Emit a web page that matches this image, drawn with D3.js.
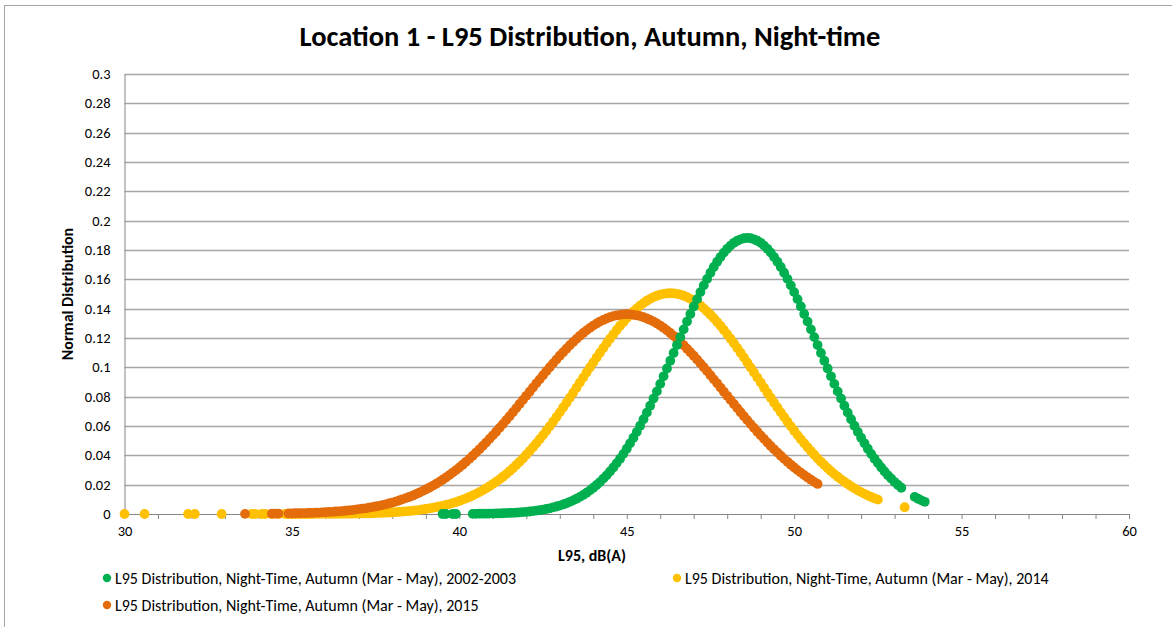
<!DOCTYPE html>
<html lang="en">
<head>
<meta charset="UTF-8">
<title>Location 1 - L95 Distribution, Autumn, Night-time</title>
<script src="https://d3js.org/d3.v7.min.js"></script>
<style>
  body { margin: 0; background: #fff; }
  svg { display: block; font-family: Calibri, Carlito, Lato, sans-serif; }
</style>
</head>
<body>
<script>
// tick labels
const xTicks = [30, 35, 40, 45, 50, 55, 60];
const xMinorTicks = [30,31,32,33,34,35,36,37,38,39,40,41,42,43,44,45,46,47,48,49,50,
  51,52,53,54,55,56,57,58,59,60];
const yTicks = [0, 0.02, 0.04, 0.06, 0.08, 0.1, 0.12, 0.14, 0.16, 0.18, 0.2, 0.22, 0.24, 0.26, 0.28, 0.3];

const seriesNames = [
  "L95 Distribution, Night-Time, Autumn (Mar - May), 2002-2003",
  "L95 Distribution, Night-Time, Autumn (Mar - May), 2014",
  "L95 Distribution, Night-Time, Autumn (Mar - May), 2015"
];

// 2002-2003
const greenX = [39.5,39.6,39.8,39.9,
  40.4,40.5,40.6,40.7,40.8,40.9,
  41.0,41.1,41.2,41.3,41.4,41.5,41.6,41.7,41.8,41.9,
  42.0,42.1,42.2,42.3,42.4,42.5,42.6,42.7,42.8,42.9,
  43.0,43.1,43.2,43.3,43.4,43.5,43.6,43.7,43.8,43.9,
  44.0,44.1,44.2,44.3,44.4,44.5,44.6,44.7,44.8,44.9,
  45.0,45.1,45.2,45.3,45.4,45.5,45.6,45.7,45.8,45.9,
  46.0,46.1,46.2,46.3,46.4,46.5,46.6,46.7,46.8,46.9,
  47.0,47.1,47.2,47.3,47.4,47.5,47.6,47.7,47.8,47.9,
  48.0,48.1,48.2,48.3,48.4,48.5,48.6,48.7,48.8,48.9,
  49.0,49.1,49.2,49.3,49.4,49.5,49.6,49.7,49.8,49.9,
  50.0,50.1,50.2,50.3,50.4,50.5,50.6,50.7,50.8,50.9,
  51.0,51.1,51.2,51.3,51.4,51.5,51.6,51.7,51.8,51.9,
  52.0,52.1,52.2,52.3,52.4,52.5,52.6,52.7,52.8,52.9,
  53.0,53.1,53.2,
  53.6,53.7,53.8,53.9];
const greenY = [0.0000,0.0000,0.0000,0.0000,
  0.0001,0.0001,0.0002,0.0002,0.0002,0.0003,
  0.0003,0.0004,0.0004,0.0005,0.0006,0.0007,0.0008,0.0009,0.0011,0.0013,
  0.0015,0.0017,0.0020,0.0023,0.0026,0.0030,0.0034,0.0039,0.0045,0.0051,
  0.0057,0.0065,0.0073,0.0083,0.0093,0.0104,0.0117,0.0130,0.0145,0.0161,
  0.0179,0.0198,0.0218,0.0241,0.0264,0.0290,0.0317,0.0347,0.0377,0.0410,
  0.0445,0.0482,0.0520,0.0560,0.0602,0.0646,0.0691,0.0738,0.0787,0.0836,
  0.0887,0.0939,0.0992,0.1045,0.1098,0.1152,0.1206,0.1259,0.1312,0.1364,
  0.1415,0.1465,0.1513,0.1559,0.1603,0.1645,0.1684,0.1720,0.1752,0.1782,
  0.1808,0.1830,0.1849,0.1863,0.1873,0.1880,0.1882,0.1880,0.1873,0.1863,
  0.1849,0.1830,0.1808,0.1782,0.1752,0.1720,0.1684,0.1645,0.1603,0.1559,
  0.1513,0.1465,0.1415,0.1364,0.1312,0.1259,0.1206,0.1152,0.1098,0.1045,
  0.0992,0.0939,0.0887,0.0836,0.0787,0.0738,0.0691,0.0646,0.0602,0.0560,
  0.0520,0.0482,0.0445,0.0410,0.0377,0.0347,0.0317,0.0290,0.0264,0.0241,
  0.0218,0.0198,0.0179,
  0.0117,0.0104,0.0093,0.0083];

// 2014
const yellowX = [30.0,30.6,31.9,32.1,32.9,33.8,33.9,34.1,34.2,34.4,34.6,34.8,34.9,
  35.0,35.1,35.2,35.3,35.4,35.5,35.6,35.7,35.8,35.9,
  36.0,36.1,36.2,36.3,36.4,36.5,36.6,36.7,36.8,36.9,
  37.0,37.1,37.2,37.3,37.4,37.5,37.6,37.7,37.8,37.9,
  38.0,38.1,38.2,38.3,38.4,38.5,38.6,38.7,38.8,38.9,
  39.0,39.1,39.2,39.3,39.4,39.5,39.6,39.7,39.8,39.9,
  40.0,40.1,40.2,40.3,40.4,40.5,40.6,40.7,40.8,40.9,
  41.0,41.1,41.2,41.3,41.4,41.5,41.6,41.7,41.8,41.9,
  42.0,42.1,42.2,42.3,42.4,42.5,42.6,42.7,42.8,42.9,
  43.0,43.1,43.2,43.3,43.4,43.5,43.6,43.7,43.8,43.9,
  44.0,44.1,44.2,44.3,44.4,44.5,44.6,44.7,44.8,44.9,
  45.0,45.1,45.2,45.3,45.4,45.5,45.6,45.7,45.8,45.9,
  46.0,46.1,46.2,46.3,46.4,46.5,46.6,46.7,46.8,46.9,
  47.0,47.1,47.2,47.3,47.4,47.5,47.6,47.7,47.8,47.9,
  48.0,48.1,48.2,48.3,48.4,48.5,48.6,48.7,48.8,48.9,
  49.0,49.1,49.2,49.3,49.4,49.5,49.6,49.7,49.8,49.9,
  50.0,50.1,50.2,50.3,50.4,50.5,50.6,50.7,50.8,50.9,
  51.0,51.1,51.2,51.3,51.4,51.5,51.6,51.7,51.8,51.9,
  52.0,52.1,52.2,52.3,52.4,52.5,
  53.3];
const yellowY = [0,0,0,0,0,0,0,0,0,0,0,0,0,
  0.0000,0.0000,0.0000,0.0000,0.0000,0.0000,0.0000,0.0001,0.0001,0.0001,
  0.0001,0.0001,0.0001,0.0001,0.0001,0.0002,0.0002,0.0002,0.0002,0.0003,
  0.0003,0.0004,0.0004,0.0005,0.0005,0.0006,0.0007,0.0008,0.0009,0.0010,
  0.0011,0.0013,0.0014,0.0016,0.0018,0.0020,0.0022,0.0025,0.0027,0.0031,
  0.0034,0.0038,0.0042,0.0046,0.0051,0.0056,0.0062,0.0068,0.0074,0.0081,
  0.0089,0.0098,0.0106,0.0116,0.0126,0.0137,0.0149,0.0161,0.0175,0.0189,
  0.0204,0.0220,0.0236,0.0254,0.0272,0.0292,0.0312,0.0334,0.0356,0.0379,
  0.0404,0.0429,0.0455,0.0482,0.0510,0.0538,0.0568,0.0598,0.0629,0.0661,
  0.0693,0.0726,0.0759,0.0793,0.0827,0.0861,0.0896,0.0930,0.0965,0.0999,
  0.1033,0.1067,0.1100,0.1132,0.1164,0.1195,0.1225,0.1255,0.1283,0.1309,
  0.1335,0.1359,0.1381,0.1402,0.1421,0.1438,0.1454,0.1467,0.1479,0.1488,
  0.1496,0.1501,0.1504,0.1505,0.1504,0.1501,0.1496,0.1488,0.1479,0.1467,
  0.1454,0.1438,0.1421,0.1402,0.1381,0.1359,0.1335,0.1309,0.1283,0.1255,
  0.1225,0.1195,0.1164,0.1132,0.1100,0.1067,0.1033,0.0999,0.0965,0.0930,
  0.0896,0.0861,0.0827,0.0793,0.0759,0.0726,0.0693,0.0661,0.0629,0.0598,
  0.0568,0.0538,0.0510,0.0482,0.0455,0.0429,0.0404,0.0379,0.0356,0.0334,
  0.0312,0.0292,0.0272,0.0254,0.0236,0.0220,0.0204,0.0189,0.0175,0.0161,
  0.0149,0.0137,0.0126,0.0116,0.0106,0.0098,
  0.0046];

// 2015
const orangeX = [33.6,34.4,34.5,34.6,34.9,35.0,35.1,35.2,
  35.3,35.4,35.5,35.6,35.7,35.8,35.9,
  36.0,36.1,36.2,36.3,36.4,36.5,36.6,36.7,36.8,36.9,
  37.0,37.1,37.2,37.3,37.4,37.5,37.6,37.7,37.8,37.9,
  38.0,38.1,38.2,38.3,38.4,38.5,38.6,38.7,38.8,38.9,
  39.0,39.1,39.2,39.3,39.4,39.5,39.6,39.7,39.8,39.9,
  40.0,40.1,40.2,40.3,40.4,40.5,40.6,40.7,40.8,40.9,
  41.0,41.1,41.2,41.3,41.4,41.5,41.6,41.7,41.8,41.9,
  42.0,42.1,42.2,42.3,42.4,42.5,42.6,42.7,42.8,42.9,
  43.0,43.1,43.2,43.3,43.4,43.5,43.6,43.7,43.8,43.9,
  44.0,44.1,44.2,44.3,44.4,44.5,44.6,44.7,44.8,44.9,
  45.0,45.1,45.2,45.3,45.4,45.5,45.6,45.7,45.8,45.9,
  46.0,46.1,46.2,46.3,46.4,46.5,46.6,46.7,46.8,46.9,
  47.0,47.1,47.2,47.3,47.4,47.5,47.6,47.7,47.8,47.9,
  48.0,48.1,48.2,48.3,48.4,48.5,48.6,48.7,48.8,48.9,
  49.0,49.1,49.2,49.3,49.4,49.5,49.6,49.7,49.8,49.9,
  50.0,50.1,50.2,50.3,50.4,50.5,50.6,50.7];
const orangeY = [0.0001,0.0002,0.0002,0.0003,0.0004,0.0004,0.0005,0.0005,
  0.0006,0.0006,0.0007,0.0008,0.0009,0.0010,0.0011,
  0.0012,0.0014,0.0015,0.0017,0.0018,0.0020,0.0022,0.0025,0.0027,0.0030,
  0.0033,0.0036,0.0039,0.0043,0.0047,0.0051,0.0056,0.0061,0.0066,0.0072,
  0.0078,0.0085,0.0092,0.0100,0.0108,0.0116,0.0125,0.0135,0.0145,0.0156,
  0.0167,0.0179,0.0192,0.0205,0.0219,0.0234,0.0249,0.0265,0.0282,0.0299,
  0.0317,0.0336,0.0356,0.0376,0.0397,0.0419,0.0441,0.0464,0.0487,0.0512,
  0.0536,0.0561,0.0587,0.0613,0.0640,0.0667,0.0694,0.0722,0.0750,0.0778,
  0.0806,0.0834,0.0862,0.0891,0.0918,0.0946,0.0974,0.1001,0.1027,0.1053,
  0.1079,0.1103,0.1127,0.1151,0.1173,0.1194,0.1215,0.1234,0.1252,0.1269,
  0.1285,0.1299,0.1312,0.1323,0.1333,0.1342,0.1349,0.1354,0.1358,0.1361,
  0.1362,0.1361,0.1358,0.1354,0.1349,0.1342,0.1333,0.1323,0.1312,0.1299,
  0.1285,0.1269,0.1252,0.1234,0.1215,0.1194,0.1173,0.1151,0.1127,0.1103,
  0.1079,0.1053,0.1027,0.1001,0.0974,0.0946,0.0918,0.0891,0.0862,0.0834,
  0.0806,0.0778,0.0750,0.0722,0.0694,0.0667,0.0640,0.0613,0.0587,0.0561,
  0.0536,0.0512,0.0487,0.0464,0.0441,0.0419,0.0397,0.0376,0.0356,0.0336,
  0.0317,0.0299,0.0282,0.0265,0.0249,0.0234,0.0219,0.0205];

const colors = ["#00B050", "#FFC000", "#E46C0A"];

const width = 1172, height = 627;
const margin = {left: 124.5, right: 1172 - 1129, top: 74, bottom: 627 - 514};
const font = "Calibri, Carlito, Lato, sans-serif";

const svg = d3.select("body").append("svg")
  .attr("width", width)
  .attr("height", height);

// chart frame
svg.append("rect")
  .attr("x", 4.5).attr("y", 5.5)
  .attr("width", 1300).attr("height", 800)
  .attr("fill", "#fff")
  .attr("stroke", "#a6a6a6");

const x = d3.scaleLinear().domain([30, 60]).range([margin.left, width - margin.right]);
const y = d3.scaleLinear().domain([0, 0.3]).range([height - margin.bottom, margin.top]);

// gridlines
svg.append("g")
  .selectAll("line")
  .data(yTicks.slice(1))
  .join("line")
  .attr("x1", x(30)).attr("x2", x(60))
  .attr("y1", d => Math.round(y(d)) + 0.5)
  .attr("y2", d => Math.round(y(d)) + 0.5)
  .attr("stroke", "#a6a6a6")
  .attr("stroke-width", 1.3);

// y axis
const yAxis = svg.append("g")
  .attr("transform", `translate(${x(30)},0)`)
  .call(d3.axisLeft(y).tickValues(yTicks).tickSize(0).tickPadding(14)
    .tickFormat(d => String(+d.toFixed(2))));
yAxis.select(".domain").attr("stroke", "#868686");
yAxis.selectAll("text").attr("font-size", 14.5).attr("fill", "#000")
  .attr("font-family", font);

// x axis: minor ticks every 1, labels every 5
const xAxis = svg.append("g")
  .attr("transform", `translate(0,${y(0)})`)
  .call(d3.axisBottom(x).tickValues(xMinorTicks).tickSizeInner(5).tickSizeOuter(0).tickPadding(7)
    .tickFormat(d => xTicks.includes(d) ? d : ""));
xAxis.select(".domain").attr("stroke", "#868686");
xAxis.selectAll(".tick line").attr("stroke", "#868686");
xAxis.selectAll("text").attr("font-size", 14.5).attr("fill", "#000")
  .attr("font-family", font);

// series (2014 first, then 2015, 2002-2003 on top)
const series = [
  {name: seriesNames[0], xs: greenX, ys: greenY, color: colors[0]},
  {name: seriesNames[1], xs: yellowX, ys: yellowY, color: colors[1]},
  {name: seriesNames[2], xs: orangeX, ys: orangeY, color: colors[2]}
];

[1, 2, 0].forEach(k => {
  const s = series[k];
  const pts = s.xs.map((v, i) => [v, s.ys[i]]);
  svg.append("g")
    .selectAll("circle")
    .data(pts)
    .join("circle")
    .attr("cx", d => x(d[0]))
    .attr("cy", d => y(d[1]))
    .attr("r", 4.9)
    .attr("fill", s.color);
});

// title
svg.append("text")
  .attr("x", 590).attr("y", 46)
  .attr("text-anchor", "middle")
  .attr("font-size", 28.5)
  .attr("font-weight", "bold")
  .text("Location 1 - L95 Distribution, Autumn, Night-time");

// axis titles
svg.append("text")
  .attr("x", 592).attr("y", 561)
  .attr("text-anchor", "middle")
  .attr("font-size", 16)
  .attr("font-weight", "bold")
  .text("L95, dB(A)");

svg.append("text")
  .attr("transform", "translate(73,294) rotate(-90)")
  .attr("text-anchor", "middle")
  .attr("font-size", 16)
  .attr("font-weight", "bold")
  .text("Normal Distribution");

// legend
const legendPos = [[107, 578], [677, 578], [107, 605]];
series.forEach((s, i) => {
  const g = svg.append("g").attr("transform", `translate(${legendPos[i][0]},${legendPos[i][1]})`);
  g.append("circle").attr("r", 4.2).attr("fill", s.color);
  g.append("text").attr("x", 8).attr("y", 5.5)
    .attr("font-size", 16)
    .text(s.name);
});
</script>
</body>
</html>
